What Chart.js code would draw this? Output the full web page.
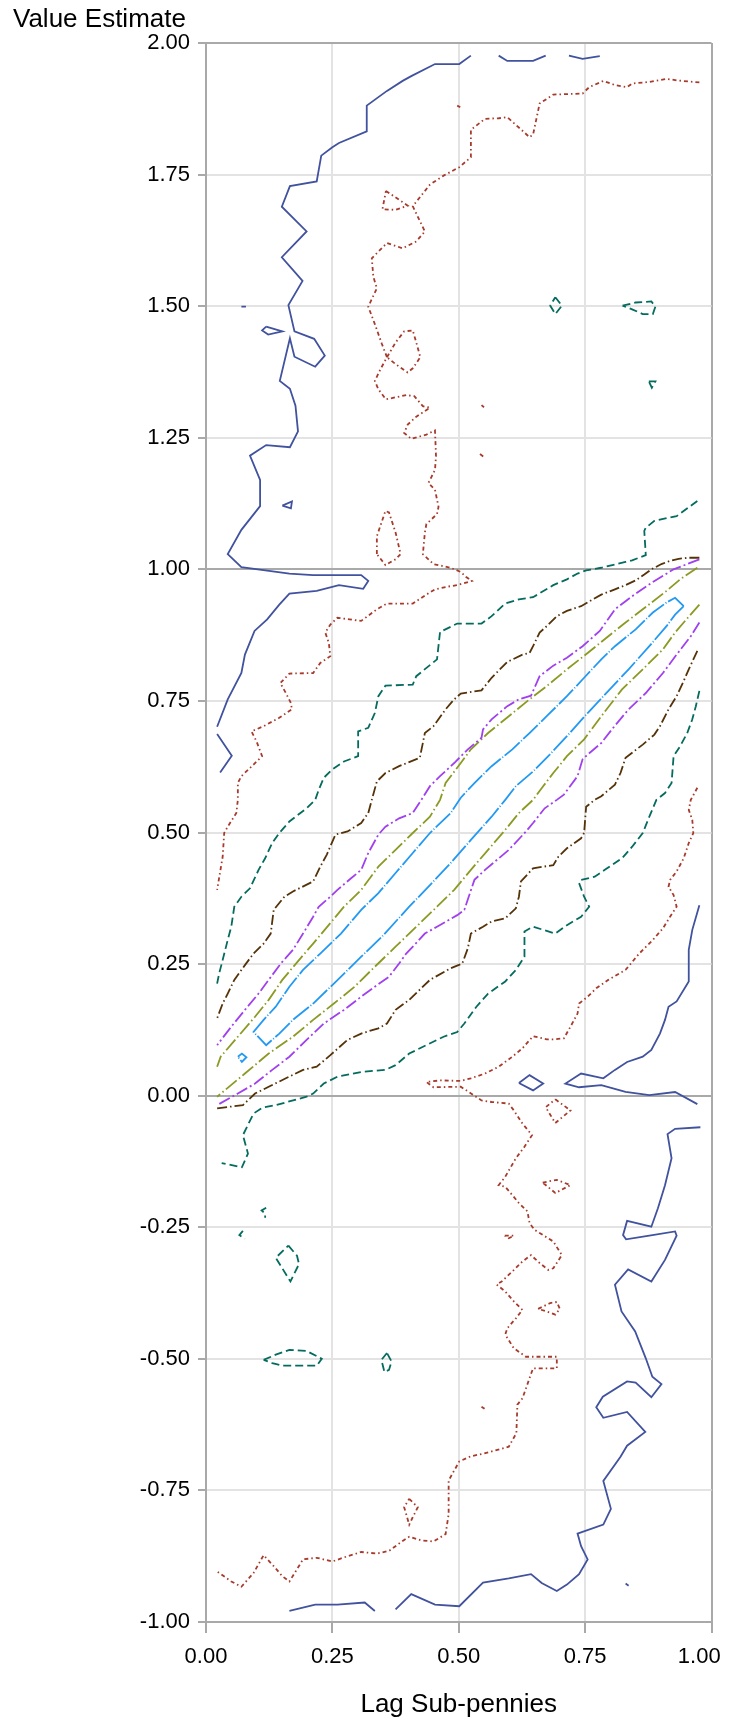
<!DOCTYPE html>
<html>
<head>
<meta charset="utf-8">
<script src="https://cdn.jsdelivr.net/npm/chart.js@4.4.1/dist/chart.umd.min.js"></script>
<style>
  html, body { margin: 0; padding: 0; background: #fff; }
  #wrap { width: 729px; height: 1727px; }
</style>
</head>
<body>
<div id="wrap"><canvas id="contour" width="729" height="1727"></canvas></div>
<script>
// Contour levels, each a list of polylines of [lag, value] pairs
const blueSegs = [
  [[0.524,1.976],[0.501,1.960],[0.453,1.960],[0.406,1.937],[0.389,1.928],[0.358,1.909],[0.318,1.881],[0.318,1.832],[0.263,1.810],[0.250,1.802],[0.228,1.786],[0.219,1.737],[0.166,1.728],[0.150,1.689],[0.199,1.642],[0.150,1.593],[0.191,1.548],[0.163,1.502],[0.175,1.452],[0.214,1.438],[0.235,1.406],[0.216,1.385],[0.175,1.404],[0.166,1.439],[0.146,1.358],[0.166,1.343],[0.177,1.311],[0.182,1.262],[0.166,1.232],[0.119,1.236],[0.087,1.216],[0.107,1.170],[0.107,1.120],[0.070,1.075],[0.043,1.029],[0.070,1.004],[0.165,0.992],[0.212,0.989],[0.307,0.989],[0.321,0.978],[0.311,0.963],[0.263,0.970],[0.219,0.959],[0.165,0.954],[0.145,0.933],[0.121,0.905],[0.096,0.883],[0.077,0.838],[0.070,0.803],[0.043,0.753],[0.022,0.701]],
  [[0.022,0.687],[0.051,0.646],[0.028,0.614]],
  [[0.579,1.976],[0.596,1.966],[0.647,1.966],[0.672,1.976]],
  [[0.718,1.976],[0.745,1.970],[0.779,1.975]],
  [[0.119,1.461],[0.151,1.452],[0.123,1.446],[0.111,1.454],[0.119,1.461]],
  [[0.151,1.121],[0.170,1.129],[0.168,1.116],[0.151,1.121]],
  [[0.070,1.499],[0.079,1.499]],
  [[0.619,0.024],[0.640,0.039],[0.667,0.023],[0.647,0.010],[0.619,0.024]],
  [[0.976,0.362],[0.962,0.315],[0.955,0.277],[0.955,0.217],[0.931,0.179],[0.915,0.169],[0.908,0.144],[0.898,0.118],[0.881,0.087],[0.864,0.074],[0.833,0.064],[0.809,0.049],[0.786,0.033],[0.742,0.042],[0.711,0.023],[0.738,0.016],[0.782,0.020],[0.830,0.007],[0.877,0.001],[0.928,0.007],[0.972,-0.016]],
  [[0.978,-0.060],[0.928,-0.063],[0.913,-0.073],[0.921,-0.119],[0.908,-0.170],[0.894,-0.214],[0.881,-0.249],[0.833,-0.238],[0.825,-0.265],[0.831,-0.273],[0.877,-0.266],[0.928,-0.258],[0.931,-0.266],[0.908,-0.312],[0.881,-0.353],[0.835,-0.330],[0.809,-0.359],[0.822,-0.410],[0.849,-0.448],[0.870,-0.499],[0.883,-0.534],[0.901,-0.548],[0.881,-0.573],[0.850,-0.545],[0.833,-0.543],[0.785,-0.572],[0.772,-0.592],[0.786,-0.612],[0.833,-0.601],[0.869,-0.639],[0.833,-0.665],[0.820,-0.686],[0.786,-0.732],[0.801,-0.785],[0.786,-0.815],[0.735,-0.832],[0.742,-0.856],[0.755,-0.881],[0.738,-0.909],[0.714,-0.929],[0.694,-0.941],[0.664,-0.926],[0.643,-0.909],[0.599,-0.917],[0.548,-0.925],[0.501,-0.970],[0.453,-0.967],[0.406,-0.947],[0.375,-0.976]],
  [[0.334,-0.979],[0.314,-0.963],[0.260,-0.967],[0.216,-0.967],[0.165,-0.979]],
  [[0.830,-0.927],[0.836,-0.931]]
];

const redSegs = [
  [[0.976,1.925],[0.931,1.929],[0.911,1.932],[0.877,1.926],[0.843,1.923],[0.833,1.916],[0.809,1.920],[0.786,1.928],[0.758,1.916],[0.745,1.904],[0.687,1.902],[0.660,1.885],[0.653,1.853],[0.647,1.826],[0.640,1.821],[0.623,1.836],[0.596,1.859],[0.579,1.857],[0.552,1.856],[0.524,1.835],[0.524,1.783],[0.501,1.764],[0.470,1.748],[0.443,1.731],[0.409,1.690],[0.433,1.642],[0.416,1.623],[0.389,1.610],[0.358,1.620],[0.328,1.591],[0.331,1.556],[0.338,1.534],[0.321,1.499],[0.334,1.466],[0.348,1.428],[0.358,1.403],[0.345,1.380],[0.334,1.358],[0.341,1.342],[0.356,1.323],[0.396,1.331],[0.412,1.329],[0.429,1.310],[0.443,1.307],[0.416,1.290],[0.399,1.275],[0.392,1.259],[0.406,1.248],[0.436,1.256],[0.453,1.264],[0.455,1.215],[0.453,1.189],[0.440,1.164],[0.453,1.151],[0.460,1.119],[0.457,1.105],[0.436,1.086],[0.433,1.070],[0.429,1.029],[0.450,1.010],[0.484,1.003],[0.504,0.995],[0.514,0.986],[0.526,0.978],[0.497,0.970],[0.477,0.967],[0.453,0.962],[0.436,0.952],[0.409,0.935],[0.358,0.935],[0.338,0.924],[0.307,0.902],[0.284,0.905],[0.260,0.908],[0.246,0.895],[0.236,0.880],[0.243,0.860],[0.246,0.835],[0.226,0.822],[0.212,0.803],[0.165,0.802],[0.147,0.784],[0.158,0.765],[0.168,0.746],[0.170,0.734],[0.145,0.718],[0.114,0.702],[0.090,0.692],[0.100,0.673],[0.111,0.645],[0.094,0.629],[0.070,0.607],[0.063,0.594],[0.063,0.562],[0.060,0.537],[0.043,0.511],[0.036,0.499],[0.033,0.454],[0.022,0.391]],
  [[0.356,1.719],[0.399,1.691],[0.375,1.683],[0.349,1.684],[0.356,1.719]],
  [[0.497,1.881],[0.503,1.878]],
  [[0.358,1.403],[0.375,1.431],[0.392,1.452],[0.409,1.454],[0.416,1.431],[0.424,1.403],[0.409,1.382],[0.399,1.374],[0.375,1.390],[0.358,1.403]],
  [[0.545,1.312],[0.550,1.308]],
  [[0.542,1.219],[0.549,1.214]],
  [[0.338,1.029],[0.338,1.063],[0.355,1.111],[0.362,1.108],[0.375,1.070],[0.385,1.029],[0.375,1.019],[0.355,1.008],[0.338,1.029]],
  [[0.972,0.585],[0.959,0.562],[0.955,0.543],[0.962,0.524],[0.964,0.499],[0.955,0.480],[0.945,0.451],[0.931,0.426],[0.918,0.410],[0.915,0.397],[0.925,0.381],[0.931,0.359],[0.918,0.340],[0.904,0.318],[0.884,0.296],[0.857,0.270],[0.830,0.239],[0.796,0.220],[0.772,0.204],[0.755,0.188],[0.738,0.175],[0.735,0.156],[0.721,0.131],[0.708,0.109],[0.687,0.107],[0.674,0.107],[0.647,0.113],[0.626,0.090],[0.606,0.074],[0.579,0.055],[0.552,0.042],[0.524,0.033],[0.504,0.028],[0.463,0.029],[0.436,0.026],[0.450,0.016],[0.504,0.017],[0.545,-0.009],[0.565,-0.012],[0.599,-0.015],[0.609,-0.028],[0.626,-0.053],[0.645,-0.075],[0.630,-0.097],[0.613,-0.119],[0.592,-0.154],[0.579,-0.170],[0.592,-0.173],[0.606,-0.189],[0.619,-0.204],[0.636,-0.220],[0.640,-0.242],[0.650,-0.255],[0.667,-0.265],[0.687,-0.277],[0.704,-0.303],[0.687,-0.328],[0.677,-0.331],[0.660,-0.318],[0.643,-0.303],[0.626,-0.315],[0.606,-0.334],[0.585,-0.353],[0.575,-0.359],[0.592,-0.372],[0.609,-0.391],[0.626,-0.407],[0.613,-0.423],[0.596,-0.442],[0.592,-0.454],[0.609,-0.480],[0.633,-0.496],[0.694,-0.496],[0.694,-0.518],[0.647,-0.518],[0.640,-0.537],[0.626,-0.575],[0.616,-0.587],[0.614,-0.641],[0.599,-0.667],[0.572,-0.674],[0.545,-0.681],[0.524,-0.685],[0.501,-0.695],[0.480,-0.731],[0.480,-0.795],[0.474,-0.833],[0.450,-0.847],[0.426,-0.845],[0.402,-0.838],[0.389,-0.846],[0.362,-0.865],[0.338,-0.870],[0.307,-0.867],[0.280,-0.875],[0.250,-0.885],[0.219,-0.878],[0.192,-0.881],[0.165,-0.923],[0.151,-0.913],[0.134,-0.894],[0.114,-0.873],[0.094,-0.907],[0.070,-0.933],[0.050,-0.923],[0.022,-0.904]],
  [[0.691,-0.007],[0.721,-0.028],[0.691,-0.052],[0.672,-0.022],[0.691,-0.007]],
  [[0.666,-0.165],[0.694,-0.160],[0.721,-0.170],[0.691,-0.185],[0.666,-0.165]],
  [[0.591,-0.266],[0.609,-0.266],[0.599,-0.271],[0.591,-0.266]],
  [[0.657,-0.405],[0.681,-0.394],[0.694,-0.392],[0.700,-0.405],[0.691,-0.416],[0.674,-0.410],[0.657,-0.405]],
  [[0.402,-0.766],[0.419,-0.782],[0.409,-0.801],[0.402,-0.815],[0.396,-0.795],[0.392,-0.782],[0.402,-0.766]],
  [[0.545,-0.591],[0.551,-0.595]]
];

const tealSegs = [
  [[0.972,1.130],[0.931,1.101],[0.915,1.098],[0.887,1.092],[0.870,1.079],[0.867,1.073],[0.870,1.027],[0.843,1.017],[0.830,1.014],[0.782,1.003],[0.752,0.998],[0.735,0.992],[0.714,0.981],[0.687,0.970],[0.647,0.947],[0.619,0.943],[0.592,0.935],[0.565,0.911],[0.545,0.897],[0.497,0.897],[0.463,0.881],[0.457,0.829],[0.416,0.797],[0.409,0.781],[0.355,0.779],[0.341,0.759],[0.334,0.727],[0.321,0.699],[0.301,0.692],[0.301,0.645],[0.273,0.635],[0.250,0.620],[0.233,0.604],[0.223,0.581],[0.216,0.562],[0.199,0.546],[0.165,0.521],[0.145,0.499],[0.131,0.480],[0.117,0.451],[0.104,0.429],[0.087,0.394],[0.070,0.378],[0.056,0.359],[0.050,0.321],[0.043,0.296],[0.033,0.258],[0.026,0.232],[0.022,0.213]],
  [[0.976,0.769],[0.969,0.740],[0.962,0.715],[0.952,0.689],[0.938,0.664],[0.925,0.645],[0.921,0.594],[0.908,0.575],[0.891,0.562],[0.877,0.530],[0.864,0.499],[0.843,0.473],[0.823,0.451],[0.789,0.429],[0.769,0.416],[0.742,0.410],[0.738,0.404],[0.748,0.378],[0.758,0.359],[0.742,0.340],[0.714,0.324],[0.691,0.308],[0.647,0.321],[0.630,0.312],[0.630,0.264],[0.613,0.239],[0.592,0.217],[0.558,0.194],[0.535,0.169],[0.511,0.137],[0.497,0.121],[0.470,0.112],[0.436,0.096],[0.402,0.080],[0.375,0.058],[0.355,0.049],[0.307,0.045],[0.260,0.036],[0.233,0.023],[0.212,0.004],[0.199,-0.002],[0.138,-0.018],[0.111,-0.023],[0.094,-0.034],[0.073,-0.075],[0.083,-0.110],[0.071,-0.136],[0.031,-0.128]],
  [[0.119,-0.213],[0.110,-0.218],[0.117,-0.224],[0.117,-0.232]],
  [[0.073,-0.257],[0.066,-0.265],[0.077,-0.272]],
  [[0.163,-0.285],[0.180,-0.304],[0.184,-0.320],[0.167,-0.353],[0.138,-0.308],[0.163,-0.285]],
  [[0.114,-0.502],[0.138,-0.492],[0.165,-0.483],[0.199,-0.485],[0.229,-0.500],[0.219,-0.513],[0.185,-0.513],[0.151,-0.513],[0.131,-0.508],[0.114,-0.502]],
  [[0.358,-0.489],[0.347,-0.502],[0.353,-0.525],[0.362,-0.521],[0.367,-0.505],[0.358,-0.489]],
  [[0.691,1.517],[0.704,1.501],[0.691,1.485],[0.681,1.501],[0.691,1.517]],
  [[0.824,1.501],[0.850,1.507],[0.881,1.509],[0.889,1.499],[0.884,1.485],[0.864,1.485],[0.843,1.494],[0.824,1.501]],
  [[0.876,1.357],[0.889,1.357],[0.882,1.345],[0.876,1.357]]
];

const brownSegs = [
  [[0.976,1.022],[0.955,1.022],[0.935,1.020],[0.918,1.016],[0.901,1.010],[0.881,1.000],[0.867,0.990],[0.850,0.979],[0.830,0.970],[0.809,0.962],[0.782,0.952],[0.765,0.943],[0.742,0.930],[0.714,0.921],[0.694,0.911],[0.674,0.892],[0.660,0.880],[0.647,0.854],[0.640,0.841],[0.626,0.838],[0.596,0.824],[0.565,0.794],[0.545,0.770],[0.504,0.764],[0.491,0.753],[0.474,0.734],[0.450,0.702],[0.433,0.689],[0.423,0.642],[0.382,0.626],[0.355,0.613],[0.338,0.597],[0.328,0.562],[0.321,0.537],[0.307,0.518],[0.280,0.502],[0.256,0.496],[0.239,0.458],[0.226,0.435],[0.212,0.407],[0.172,0.388],[0.155,0.378],[0.134,0.353],[0.128,0.308],[0.114,0.289],[0.094,0.270],[0.077,0.248],[0.056,0.220],[0.043,0.194],[0.033,0.175],[0.022,0.147]],
  [[0.972,0.845],[0.955,0.810],[0.945,0.788],[0.931,0.759],[0.915,0.734],[0.898,0.702],[0.887,0.686],[0.864,0.667],[0.830,0.642],[0.820,0.613],[0.809,0.591],[0.782,0.569],[0.769,0.562],[0.752,0.549],[0.748,0.499],[0.742,0.489],[0.714,0.470],[0.697,0.454],[0.687,0.438],[0.647,0.432],[0.623,0.407],[0.619,0.378],[0.613,0.356],[0.592,0.337],[0.565,0.331],[0.548,0.321],[0.524,0.308],[0.518,0.280],[0.507,0.251],[0.484,0.242],[0.443,0.220],[0.402,0.182],[0.375,0.163],[0.358,0.137],[0.341,0.128],[0.307,0.118],[0.280,0.106],[0.246,0.077],[0.219,0.055],[0.192,0.049],[0.158,0.033],[0.124,0.017],[0.097,0.004],[0.073,-0.018],[0.022,-0.024]]
];

const purpleSegs = [
  [[0.976,1.019],[0.925,1.000],[0.884,0.976],[0.843,0.949],[0.809,0.924],[0.779,0.883],[0.745,0.854],[0.714,0.832],[0.687,0.817],[0.660,0.797],[0.643,0.760],[0.619,0.753],[0.596,0.740],[0.565,0.715],[0.548,0.696],[0.545,0.680],[0.518,0.658],[0.491,0.632],[0.463,0.607],[0.443,0.588],[0.426,0.562],[0.409,0.537],[0.382,0.527],[0.355,0.511],[0.341,0.496],[0.321,0.461],[0.307,0.429],[0.287,0.413],[0.260,0.391],[0.246,0.378],[0.223,0.359],[0.212,0.340],[0.192,0.308],[0.172,0.277],[0.148,0.251],[0.124,0.220],[0.104,0.194],[0.077,0.163],[0.050,0.131],[0.022,0.096]],
  [[0.976,0.899],[0.959,0.873],[0.931,0.838],[0.904,0.803],[0.870,0.765],[0.836,0.734],[0.803,0.696],[0.782,0.670],[0.755,0.648],[0.745,0.639],[0.735,0.607],[0.708,0.572],[0.694,0.562],[0.670,0.546],[0.647,0.518],[0.633,0.502],[0.599,0.467],[0.552,0.429],[0.531,0.410],[0.511,0.353],[0.497,0.343],[0.457,0.321],[0.433,0.308],[0.412,0.286],[0.396,0.270],[0.382,0.251],[0.362,0.226],[0.334,0.207],[0.307,0.188],[0.273,0.163],[0.233,0.137],[0.199,0.106],[0.165,0.074],[0.131,0.049],[0.097,0.023],[0.063,0.004],[0.022,-0.018]]
];

const oliveSegs = [
  [[0.972,1.003],[0.938,0.981],[0.911,0.959],[0.864,0.924],[0.830,0.899],[0.796,0.873],[0.755,0.841],[0.714,0.810],[0.674,0.778],[0.640,0.753],[0.599,0.721],[0.558,0.689],[0.524,0.658],[0.504,0.632],[0.474,0.594],[0.463,0.562],[0.443,0.530],[0.409,0.499],[0.375,0.467],[0.341,0.435],[0.307,0.391],[0.273,0.359],[0.246,0.328],[0.212,0.289],[0.178,0.251],[0.151,0.220],[0.124,0.182],[0.097,0.150],[0.063,0.112],[0.029,0.074],[0.022,0.055]],
  [[0.976,0.933],[0.945,0.899],[0.928,0.880],[0.904,0.848],[0.864,0.810],[0.823,0.772],[0.782,0.721],[0.748,0.677],[0.714,0.645],[0.687,0.613],[0.667,0.588],[0.647,0.562],[0.619,0.537],[0.592,0.505],[0.558,0.467],[0.524,0.429],[0.491,0.391],[0.457,0.359],[0.416,0.321],[0.375,0.283],[0.334,0.245],[0.294,0.207],[0.253,0.175],[0.212,0.144],[0.172,0.112],[0.124,0.080],[0.077,0.042],[0.022,-0.002]]
];

const lightBlueSegs = [
  [[0.945,0.930],[0.928,0.946],[0.911,0.937],[0.884,0.918],[0.850,0.886],[0.809,0.854],[0.782,0.829],[0.748,0.794],[0.714,0.759],[0.674,0.721],[0.640,0.689],[0.606,0.658],[0.565,0.626],[0.531,0.594],[0.504,0.566],[0.484,0.537],[0.443,0.499],[0.409,0.461],[0.375,0.423],[0.341,0.385],[0.307,0.353],[0.267,0.308],[0.226,0.270],[0.192,0.239],[0.165,0.207],[0.138,0.169],[0.114,0.144],[0.094,0.121],[0.119,0.096],[0.145,0.118],[0.172,0.144],[0.212,0.175],[0.253,0.213],[0.307,0.264],[0.348,0.302],[0.402,0.359],[0.443,0.400],[0.484,0.442],[0.524,0.486],[0.565,0.530],[0.592,0.562],[0.613,0.588],[0.647,0.616],[0.680,0.648],[0.714,0.683],[0.755,0.727],[0.796,0.769],[0.836,0.810],[0.877,0.854],[0.911,0.892],[0.928,0.914],[0.945,0.930]],
  [[0.063,0.074],[0.071,0.080],[0.080,0.073],[0.071,0.064],[0.063,0.074]]
];

const xTicks = [0, 0.25, 0.5, 0.75, 1];
const yTicks = [-1, -0.75, -0.5, -0.25, 0, 0.25, 0.5, 0.75, 1, 1.25, 1.5, 1.75, 2];

const levels = [
  { segs: blueSegs,      color: "#41529e", dash: [],             width: 1.8 },
  { segs: redSegs,       color: "#a83a2c", dash: [4, 3, 1.5, 3], width: 1.8 },
  { segs: tealSegs,      color: "#046b5f", dash: [8, 4],         width: 1.8 },
  { segs: brownSegs,     color: "#553208", dash: [10, 3, 1.5, 3],width: 1.8 },
  { segs: purpleSegs,    color: "#a040ef", dash: [12, 3, 2, 3],  width: 1.8 },
  { segs: oliveSegs,     color: "#8b9a22", dash: [14, 3, 1.5, 3],width: 1.8 },
  { segs: lightBlueSegs, color: "#2299f2", dash: [20, 2, 1, 2],  width: 1.8 }
];

const datasets = [];
levels.forEach(function (lv) {
  lv.segs.forEach(function (seg) {
    datasets.push({
      data: seg.map(p => ({ x: p[0], y: p[1] })),
      showLine: true,
      borderColor: lv.color,
      borderWidth: lv.width,
      borderDash: lv.dash,
      pointRadius: 0,
      pointHoverRadius: 0,
      fill: false,
      tension: 0
    });
  });
});

const FONT = "'Liberation Sans', Arial, sans-serif";
const GRID_LIGHT = "#e3e3e3";
const GRID_DARK = "#a9a9a9";

// y-axis title sits flat above the ticks, so draw it directly
const yTitlePlugin = {
  id: "yTitle",
  afterDraw(chart) {
    const ctx = chart.ctx;
    ctx.save();
    ctx.font = "26px " + FONT;
    ctx.fillStyle = "#000";
    ctx.textBaseline = "alphabetic";
    ctx.textAlign = "left";
    ctx.fillText("Value Estimate", 13, 27);
    ctx.restore();
  }
};

new Chart(document.getElementById("contour"), {
  type: "scatter",
  data: { datasets },
  options: {
    responsive: false,
    devicePixelRatio: 1,
    animation: false,
    events: [],
    layout: { padding: { top: 43, right: 17.5, left: 0, bottom: 0 } },
    plugins: { legend: { display: false }, tooltip: { enabled: false } },
    scales: {
      x: {
        type: "linear",
        min: 0,
        max: 1,
        afterFit(scale) {
          scale.height = 105;
          // keep the frame at full width; the last label is nudged inside instead
          scale.paddingLeft = 0;
          scale.paddingRight = 0;
        },
        afterBuildTicks(scale) { scale.ticks = xTicks.map(v => ({ value: v })); },
        ticks: {
          // trailing spaces pull the "1.00" label left so it stays on the page
          callback: v => v === 1 ? v.toFixed(2) + "    " : v.toFixed(2),
          font: { family: FONT, size: 22 },
          color: "#000",
          padding: 11,
          maxRotation: 0
        },
        grid: {
          color: c => (c.tick && (c.tick.value === 0 || c.tick.value === 1)) ? GRID_DARK : GRID_LIGHT,
          lineWidth: 2,
          tickLength: 11,
          tickColor: GRID_DARK,
          tickWidth: 2
        },
        border: { display: true, color: GRID_DARK, width: 2 },
        title: {
          display: true,
          text: "Lag Sub-pennies",
          font: { family: FONT, size: 26 },
          color: "#000",
          padding: { top: 0, bottom: 7 }
        }
      },
      y: {
        type: "linear",
        min: -1,
        max: 2,
        afterFit(scale) { scale.width = 206; },
        afterBuildTicks(scale) { scale.ticks = yTicks.map(v => ({ value: v })); },
        ticks: {
          callback: v => v.toFixed(2),
          font: { family: FONT, size: 22 },
          color: "#000",
          padding: 8
        },
        grid: {
          color: c => (c.tick && [-1, 0, 1, 2].includes(c.tick.value)) ? GRID_DARK : GRID_LIGHT,
          lineWidth: 2,
          tickLength: 8,
          tickColor: GRID_DARK,
          tickWidth: 2
        },
        border: { display: true, color: GRID_DARK, width: 2 }
      }
    }
  },
  plugins: [yTitlePlugin]
});
</script>
</body>
</html>
